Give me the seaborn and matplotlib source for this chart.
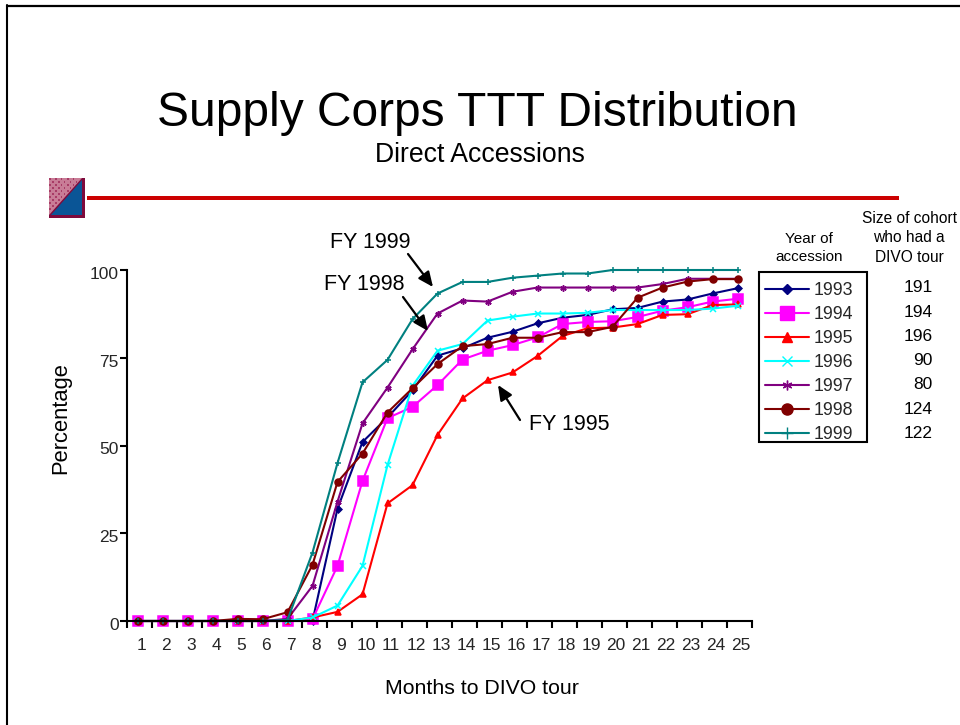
import numpy as np
import pandas as pd
import matplotlib
matplotlib.use("Agg")
import matplotlib.pyplot as plt
from matplotlib.lines import Line2D
from matplotlib.patches import Polygon, Rectangle, FancyArrowPatch
from matplotlib.transforms import ScaledTranslation
import seaborn as sns

months = list(range(1, 26))
years = [1993, 1994, 1995, 1996, 1997, 1998, 1999]
cohort_sizes = [191, 194, 196, 90, 80, 124, 122]

v1993 = [0, 0, 0, 0, 0, 0, 0, 0, 32, 51, 58, 65.7, 75.6, 77.7, 80.7, 82.4, 84.8, 86.4, 87.2, 88.8, 89.2, 91, 91.6, 93.3, 94.8]
v1994 = [0, 0, 0, 0, 0, 0, 0, 0.5, 15.7, 39.9, 57.8, 61, 67.2, 74.5, 77, 78.6, 80.8, 84.6, 85.2, 85.4, 86.6, 88.4, 89.4, 91, 91.8]
v1995 = [0, 0, 0, 0, 0, 0, 0, 1, 2.6, 7.6, 33.5, 38.7, 53, 63.4, 68.6, 70.8, 75.5, 81.2, 83.4, 83.6, 84.6, 87.2, 87.4, 90, 90.2]
v1996 = [0, 0, 0, 0, 0, 0, 0, 1, 4.4, 15.7, 44.4, 67, 77, 78.9, 85.6, 86.7, 87.6, 87.6, 87.8, 88.6, 88.6, 88.6, 88.6, 89, 89.8]
v1997 = [0, 0, 0, 0, 0, 0, 0.6, 10, 34, 56.3, 66.5, 77.4, 87.6, 91.3, 91, 93.8, 95, 95, 95, 95, 95, 96, 97.5, 97.5, 97.5]
v1998 = [0, 0, 0, 0, 0.6, 0.5, 2.5, 16, 39.6, 47.7, 59.4, 66.3, 73.2, 78.3, 78.9, 80.7, 80.7, 82.3, 82.3, 83.8, 92.1, 95, 96.7, 97.4, 97.4]
v1999 = [0, 0, 0, 0, 0, 0, 0.3, 19.5, 45, 68, 74.4, 86, 93.3, 96.6, 96.6, 97.8, 98.4, 99, 99, 100, 100, 100, 100, 100, 100]

colors = ["#000080", "#FF00FF", "#FF0000", "#00FFFF", "#800080", "#800000", "#008080"]
marks = ["D", "s", "^", "x", (6, 2, 0), "o", "+"]
msizes = [3.5, 7, 4.5, 4.5, 4.5, 5, 5]
legend_sizes = [5, 9.5, 7.5, 7, 7, 8, 8]

W, H = 960, 725


def fx(px):
    return px / W


def fy(py):
    return 1 - py / H


sns.set_theme(style="white")
plt.rcParams["font.family"] = ["Liberation Sans", "DejaVu Sans"]

df = pd.DataFrame({
    "month": months * len(years),
    "pct": v1993 + v1994 + v1995 + v1996 + v1997 + v1998 + v1999,
    "year": np.repeat(years, len(months)),
})

fig = plt.figure(figsize=(9.6, 7.25), dpi=100)
ax = fig.add_axes([fx(127), fy(621), fx(625), (621 - 270) / H])

# one lineplot per year so each keeps its own marker size
for i, y in enumerate(years):
    sns.lineplot(data=df[df["year"] == y], x="month", y="pct", color=colors[i], marker=marks[i],
                 markersize=msizes[i], markeredgecolor=colors[i], markeredgewidth=1.1,
                 linewidth=1.5, ax=ax, legend=False, errorbar=None, clip_on=False)

# month sits slightly left of the centre of its tick interval
left = 0.58
ax.set_xlim(left, left + 25)
ax.set_ylim(0, 100)
ax.set_xticks([left + k for k in range(26)])
ax.set_xticklabels([])
ax.set_xticks([left + 0.56 + k for k in range(25)], labels=[str(m) for m in months], minor=True)
ax.tick_params(axis="x", which="major", direction="out", length=5, width=1.5, color="black", bottom=True)
ax.tick_params(axis="x", which="minor", length=0, labelsize=12.5, pad=12, bottom=False)
ax.set_yticks([0, 25, 50, 75, 100])
ax.tick_params(axis="y", direction="out", length=5, width=1.5, color="black", left=True, labelsize=12.5, pad=1)
for lab in ax.get_yticklabels():
    lab.set_transform(lab.get_transform() + ScaledTranslation(0, -3 / 100, fig.dpi_scale_trans))
for s in ["top", "right"]:
    ax.spines[s].set_visible(False)
for s in ["left", "bottom"]:
    ax.spines[s].set_color("black")
    ax.spines[s].set_linewidth(1.5)
ax.set_xlabel("")
ax.set_ylabel("")

fig.text(fx(482), fy(688), "Months to DIVO tour", ha="center", va="center", fontsize=15.3, color="black")
fig.text(fx(61), fy(418), "Percentage", ha="center", va="center", rotation=90, fontsize=15.8, color="black")
fig.text(fx(477), fy(113), "Supply Corps TTT Distribution", ha="center", va="center", fontsize=34.5, color="black")
fig.text(fx(480), fy(155), "Direct Accessions", ha="center", va="center", fontsize=19.2, color="black")

# slide frame and header rule
fig.add_artist(Line2D([fx(7), fx(7)], [fy(5), 0], color="black", lw=1.5))
fig.add_artist(Line2D([fx(7), 1], [fy(5.5), fy(5.5)], color="black", lw=1.6))
fig.add_artist(Rectangle((fx(87), fy(200)), fx(812), 4 / H, color="#CC0000", lw=0))

# logo
logo = fig.add_axes([fx(49), fy(218), 36 / W, 40 / H])
logo.set_xlim(0, 36)
logo.set_ylim(40, 0)
logo.axis("off")
logo.add_patch(Rectangle((0, 0), 36, 40, color="#7E0A3C", lw=0))
logo.add_patch(Polygon([(0, 0), (33, 0), (0, 37)], color="#C87C96", lw=0))
logo.add_patch(Polygon([(33, 2), (33, 37), (2, 37)], color="#0A5596", lw=0))
for r in range(0, 36, 3):
    for c in range(0, 32, 3):
        if (r + c) % 2 == 0 and c + r * 33 / 37 < 30:
            logo.add_patch(Rectangle((c, r), 1.5, 1.5, color="#A83C66", lw=0))

# legend box and table
fig.add_artist(Rectangle((fx(759), fy(442)), fx(108), 170 / H, facecolor="white", edgecolor="black", lw=1.5))
handles = [Line2D([], [], color=colors[i], marker=marks[i], markersize=legend_sizes[i],
                  markeredgecolor=colors[i], lw=1.5) for i in range(len(years))]
leg = fig.legend(handles, [str(y) for y in years], loc="upper left",
                 bbox_to_anchor=(fx(759), fy(276)), borderaxespad=0, frameon=False,
                 fontsize=12.8, labelspacing=0.39, handlelength=2.45, handletextpad=0.3, borderpad=0.35)
leg.set_zorder(5)

for i, n in enumerate(cohort_sizes):
    fig.text(fx(933), fy(288 + 24.2 * i), str(n), ha="right", va="center", fontsize=12.5, color="black")

fig.text(fx(809), fy(248), "Year of\naccession", ha="center", va="center", fontsize=11, color="black", linespacing=1.4)
fig.text(fx(909), fy(238), "Size of cohort\nwho had a\nDIVO tour", ha="center", va="center", fontsize=11.2, color="black", linespacing=1.4)

# callouts
fig.text(fx(370.5), fy(242), "FY 1999", ha="center", va="center", fontsize=15.5, color="black")
fig.text(fx(364), fy(284), "FY 1998", ha="center", va="center", fontsize=15.5, color="black")
fig.text(fx(569.5), fy(425), "FY 1995", ha="center", va="center", fontsize=15.5, color="black")
for start, tip in [((408, 254), (433, 287)), ((403, 297), (428, 331)), ((520, 420), (498, 385))]:
    fig.add_artist(FancyArrowPatch(
        (fx(start[0]), fy(start[1])), (fx(tip[0]), fy(tip[1])), transform=fig.transFigure,
        arrowstyle="-|>,head_length=0.45,head_width=0.2", mutation_scale=20, color="black", lw=1.6, shrinkA=0, shrinkB=0))

fig.savefig("out.png", dpi=100, facecolor="white")
